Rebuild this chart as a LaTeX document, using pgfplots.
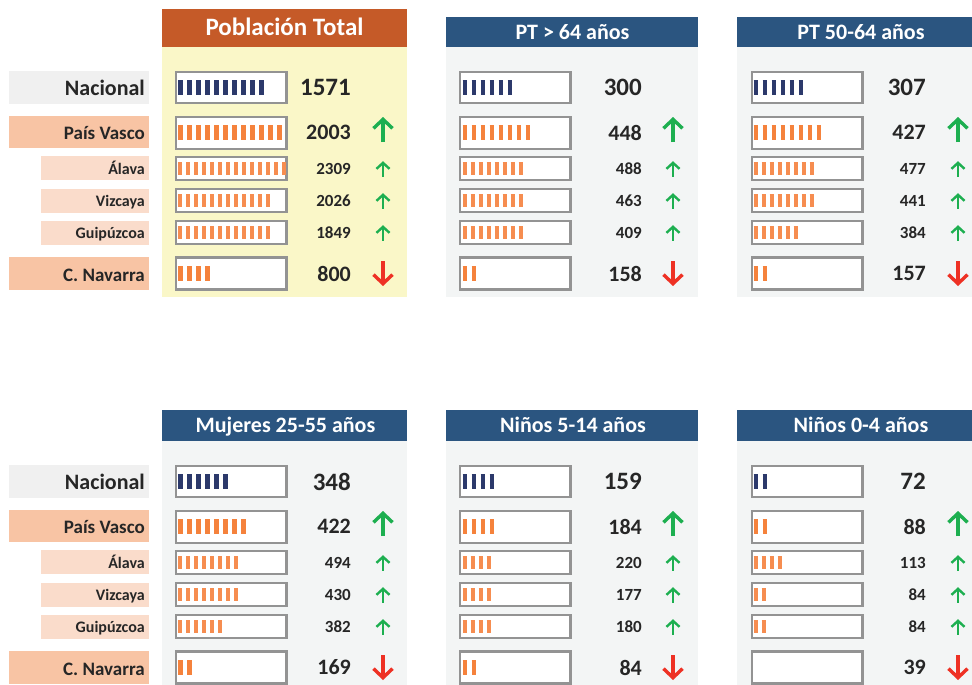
\documentclass[border=0pt]{standalone}
\usepackage{fontspec}
\setmainfont{Carlito}
\usepackage{pgfplots}
\pgfplotsset{compat=1.18}
\usepackage{pgfplotstable}
\usetikzlibrary{arrows.meta}

\definecolor{hdrOrange}{HTML}{C55A28}
\definecolor{hdrBlue}{HTML}{2B5580}
\definecolor{bgYellow}{HTML}{FAF7C8}
\definecolor{bgGray}{HTML}{F3F5F5}
\definecolor{lblGray}{HTML}{F0F0F0}
\definecolor{lblSalmon}{HTML}{F8C4A4}
\definecolor{lblLight}{HTML}{FADCCB}
\definecolor{barNavy}{HTML}{2C396B}
\definecolor{barOrange}{HTML}{F5823C}
\definecolor{barLight}{HTML}{F68D50}
\definecolor{boxGray}{HTML}{939393}
\definecolor{txt}{HTML}{262626}

% val = value, n = number of tick bars, t = trend (1 up, -1 down, 0 none)
% rows: Nacional, País Vasco, Álava, Vizcaya, Guipúzcoa, C. Navarra
\pgfplotstableread{
val n t
1571 10 0
2003 12 1
2309 14 1
2026 12 1
1849 12 1
800 4 -1
}\tTotal
\pgfplotstableread{
val n t
300 6 0
448 8 1
488 8 1
463 8 1
409 8 1
158 2 -1
}\tSenior
\pgfplotstableread{
val n t
307 6 0
427 8 1
477 8 1
441 8 1
384 6 1
157 2 -1
}\tMid
\pgfplotstableread{
val n t
348 6 0
422 8 1
494 8 1
430 8 1
382 6 1
169 2 -1
}\tMuj
\pgfplotstableread{
val n t
159 4 0
184 4 1
220 4 1
177 4 1
180 4 1
84 2 -1
}\tNinA
\pgfplotstableread{
val n t
72 2 0
88 2 1
113 4 1
84 2 1
84 2 1
39 0 -1
}\tNinB

\newcommand\rowy{(87.7+44.8*(\coordindex>0.5)+36.2*(\coordindex>1.5)+32*(\coordindex>2.5)+32*(\coordindex>3.5)+40.8*(\coordindex>4.5))}

\tikzset{bx/.style={draw=boxGray, line width=2.2pt, fill=white}}

% #1 table, #2 box left, #3 bar x0, #4 number right x, #5 arrow x, #6 y offset
\newcommand\panel[6]{%
 \draw[bx] (axis cs:{#2+1},{#6+72.3}) rectangle (axis cs:{#2+111.5},{#6+103.1});
 \draw[bx] (axis cs:{#2+1},{#6+116.6}) rectangle (axis cs:{#2+111.5},{#6+148.6});
 \draw[bx] (axis cs:{#2+1},{#6+157.1}) rectangle (axis cs:{#2+111.5},{#6+180.3});
 \draw[bx] (axis cs:{#2+1},{#6+189.1}) rectangle (axis cs:{#2+111.5},{#6+212.3});
 \draw[bx] (axis cs:{#2+1},{#6+221.1}) rectangle (axis cs:{#2+111.5},{#6+244.3});
 \draw[bx] (axis cs:{#2+1},{#6+257.5}) rectangle (axis cs:{#2+111.5},{#6+289.5});
 \addplot[barNavy, line width=15pt, dash pattern=on 4.7pt off 4.3pt,
   quiver={u={max(\thisrow{n}*9-4.3,0)}, v=0},
   skip coords between index={1}{6}]
   table[x expr=#3, y expr={\rowy+#6}] {#1};
 \addplot[barOrange, line width=15pt, dash pattern=on 4.7pt off 4.3pt,
   quiver={u={max(\thisrow{n}*9-4.3,0)}, v=0},
   skip coords between index={0}{1}, skip coords between index={2}{5}]
   table[x expr=#3, y expr={\rowy+#6}] {#1};
 \addplot[barLight, line width=13.5pt, dash pattern=on 4pt off 4pt,
   quiver={u={max(\thisrow{n}*8-4,0)}, v=0},
   skip coords between index={0}{2}, skip coords between index={5}{6}]
   table[x expr=#3, y expr={\rowy+#6}] {#1};
 \addplot[draw=none, point meta=explicit symbolic, nodes near coords={\pgfplotspointmeta},
   nodes near coords style={anchor=east, inner sep=0pt, text=txt, font=\bfseries\fontsize{25}{25}\selectfont},
   skip coords between index={1}{6}]
   table[x expr=#4, y expr={\rowy+#6}, meta=val] {#1};
 \addplot[draw=none, point meta=explicit symbolic, nodes near coords={\pgfplotspointmeta},
   nodes near coords style={anchor=east, inner sep=0pt, text=txt, font=\bfseries\fontsize{22}{22}\selectfont},
   skip coords between index={0}{1}, skip coords between index={2}{5}]
   table[x expr=#4, y expr={\rowy+#6}, meta=val] {#1};
 \addplot[draw=none, point meta=explicit symbolic, nodes near coords={\pgfplotspointmeta},
   nodes near coords style={anchor=east, inner sep=0pt, text=txt, font=\bfseries\fontsize{17}{17}\selectfont},
   skip coords between index={0}{2}, skip coords between index={5}{6}]
   table[x expr=#4, y expr={\rowy+#6}, meta=val] {#1};
 \addplot[line width=3.4pt, -{Straight Barb[length=9pt, width=19pt]},
   point meta=\thisrow{t}, quiver={u=0, v={-25*\thisrow{t}}, colored},
   skip coords between index={0}{1}, skip coords between index={2}{5}]
   table[x expr=#5, y expr={\rowy+#6+11*\thisrow{t}-1.5}] {#1};
 \addplot[line width=2.4pt, -{Straight Barb[length=6pt, width=13pt]},
   point meta=\thisrow{t}, quiver={u=0, v={-15.5*\thisrow{t}}, colored},
   skip coords between index={0}{2}, skip coords between index={5}{6}]
   table[x expr=#5, y expr={\rowy+#6+8*\thisrow{t}}] {#1};
}

% #1 y offset
\newcommand\labels[1]{%
 \fill[lblGray] (axis cs:9,{#1+71}) rectangle (axis cs:149,{#1+104});
 \node[anchor=base east, inner sep=0pt, text=txt, font=\bfseries\fontsize{22}{22}\selectfont] at (axis cs:145,{#1+95.3}) {Nacional};
 \fill[lblSalmon] (axis cs:9,{#1+116}) rectangle (axis cs:149,{#1+148});
 \node[anchor=base east, inner sep=0pt, text=txt, font=\bfseries\fontsize{19}{19}\selectfont] at (axis cs:145,{#1+139}) {País Vasco};
 \fill[lblLight] (axis cs:41,{#1+156}) rectangle (axis cs:149,{#1+179.5});
 \node[anchor=base east, inner sep=0pt, text=txt, font=\bfseries\fontsize{16}{16}\selectfont] at (axis cs:145,{#1+174.3}) {Álava};
 \fill[lblLight] (axis cs:41,{#1+189}) rectangle (axis cs:149,{#1+212.7});
 \node[anchor=base east, inner sep=0pt, text=txt, font=\bfseries\fontsize{16}{16}\selectfont] at (axis cs:145,{#1+206.5}) {Vizcaya};
 \fill[lblLight] (axis cs:41,{#1+221}) rectangle (axis cs:149,{#1+244.7});
 \node[anchor=base east, inner sep=0pt, text=txt, font=\bfseries\fontsize{16}{16}\selectfont] at (axis cs:145,{#1+238.4}) {Guipúzcoa};
 \fill[lblSalmon] (axis cs:9,{#1+257}) rectangle (axis cs:149,{#1+289.7});
 \node[anchor=base east, inner sep=0pt, text=txt, font=\bfseries\fontsize{19}{19}\selectfont] at (axis cs:145,{#1+281.2}) {C. Navarra};
}

\begin{document}
\begin{tikzpicture}
\begin{axis}[x=1pt, y=1pt, y dir=reverse, xmin=0, xmax=972, ymin=0, ymax=685,
  hide axis, clip=false, enlargelimits=false,
  colormap={trend}{rgb255=(238,49,36) rgb255=(29,175,80)},
  point meta min=-1, point meta max=1]
\path (axis cs:0,0) rectangle (axis cs:972,685);
% panel backgrounds
\fill[bgYellow] (axis cs:162,47) rectangle (axis cs:407,297);
\fill[bgGray] (axis cs:446,47) rectangle (axis cs:698,297);
\fill[bgGray] (axis cs:737,47) rectangle (axis cs:972,297);
\fill[bgGray] (axis cs:162,441) rectangle (axis cs:407,685);
\fill[bgGray] (axis cs:446,441) rectangle (axis cs:698,685);
\fill[bgGray] (axis cs:737,441) rectangle (axis cs:972,685);
% headers
\fill[hdrOrange] (axis cs:162,9) rectangle (axis cs:407,47);
\node[anchor=base, inner sep=0pt, text=white, font=\bfseries\fontsize{25}{25}\selectfont] at (axis cs:284.5,36) {Población Total};
\fill[hdrBlue] (axis cs:446,17) rectangle (axis cs:698,47);
\node[anchor=base, inner sep=0pt, text=white, font=\bfseries\fontsize{22}{22}\selectfont] at (axis cs:572.5,39.2) {PT > 64 años};
\fill[hdrBlue] (axis cs:737,17) rectangle (axis cs:972,47);
\node[anchor=base, inner sep=0pt, text=white, font=\bfseries\fontsize{22}{22}\selectfont] at (axis cs:861,39.2) {PT 50-64 años};
\fill[hdrBlue] (axis cs:162,410) rectangle (axis cs:407,441);
\node[anchor=base, inner sep=0pt, text=white, font=\bfseries\fontsize{22}{22}\selectfont] at (axis cs:285.5,432.3) {Mujeres 25-55 años};
\fill[hdrBlue] (axis cs:446,410) rectangle (axis cs:698,441);
\node[anchor=base, inner sep=0pt, text=white, font=\bfseries\fontsize{22}{22}\selectfont] at (axis cs:573,432.3) {Niños 5-14 años};
\fill[hdrBlue] (axis cs:737,410) rectangle (axis cs:972,441);
\node[anchor=base, inner sep=0pt, text=white, font=\bfseries\fontsize{22}{22}\selectfont] at (axis cs:861,432.3) {Niños 0-4 años};
% row labels
\labels{0}
\labels{394}
% panels
\panel{\tTotal}{175}{178}{351}{383}{0}
\panel{\tSenior}{459}{462.5}{642}{673}{0}
\panel{\tMid}{751}{753.5}{926}{958}{0}
\panel{\tMuj}{175}{178.3}{351}{383}{394}
\panel{\tNinA}{459}{462.5}{642}{673}{394}
\panel{\tNinB}{751}{753.5}{926}{958}{394}
\end{axis}
\end{tikzpicture}
\end{document}
